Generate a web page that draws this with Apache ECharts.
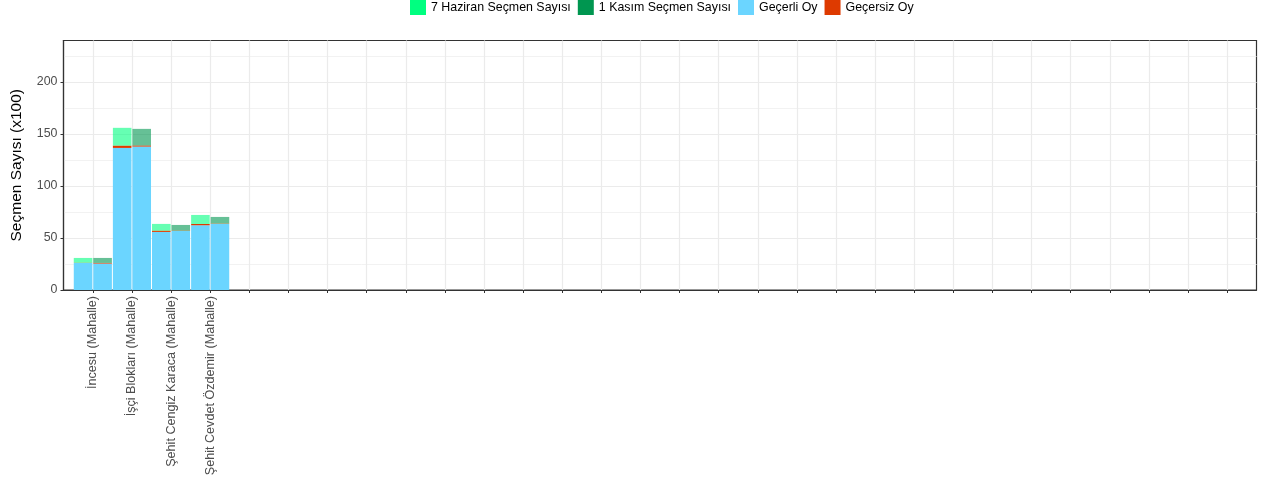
<!DOCTYPE html>
<html>
<head>
<meta charset="utf-8">
<script src="https://cdn.jsdelivr.net/npm/echarts@6/dist/echarts.min.js"></script>
<style>
  html, body { margin: 0; padding: 0; background: #fff; }
  #chart { width: 1262px; height: 486px; }
</style>
</head>
<body>
<div id="chart"></div>
<script>
// chart data (x100 voters)
const districts = [
  "İncesu (Mahalle)",
  "İşçi Blokları (Mahalle)",
  "Şehit Cengiz Karaca (Mahalle)",
  "Şehit Cevdet Özdemir (Mahalle)"
];
const levelCount = 30; // the factor has 30 levels, most of them empty here
const haziranTotal = [30.8, 155.8, 63.5, 72.1];
const haziranValid = [26.0, 136.5, 55.8, 62.2];
const haziranInvalid = [0.2, 2.2, 1.2, 1.2];
const kasimTotal = [30.8, 154.8, 62.5, 70.2];
const kasimValid = [25.4, 137.8, 56.7, 63.5];
const kasimInvalid = [0.6, 1.0, 0.3, 0.3];
const yTicks = [0, 50, 100, 150, 200];

const legendNames = ["7 Haziran Seçmen Sayısı", "1 Kasım Seçmen Sayısı", "Geçerli Oy", "Geçersiz Oy"];
const colors = {
  haziran: "#00ff80",
  kasim: "#009650",
  valid: "#6bd5ff",
  invalid: "#de3a00"
};

// the discrete axis has 0.75 units of padding on each side, so the axis is
// split into quarter-units and each level sits on every 4th slot
const SUB = 4, OFFSET = 3;
const slotTotal = levelCount * SUB + OFFSET;
const slots = Array.from({ length: slotTotal }, (_, i) => "s" + i);
const isLevel = i => i % SUB === OFFSET;

function toSlots(values) {
  const out = new Array(slotTotal).fill(null);
  values.forEach((v, i) => { out[OFFSET + i * SUB] = v; });
  return out;
}
const rest = (total, valid, invalid) => total.map((t, i) => +(t - valid[i] - invalid[i]).toFixed(2));

const font = "'Liberation Sans', Arial, Helvetica, sans-serif";

const chart = echarts.init(document.getElementById("chart"));

const barBase = {
  type: "bar",
  barWidth: 18.6,
  barGap: "5%",
  emphasis: { disabled: true }
};

chart.setOption({
  animation: false,
  textStyle: { fontFamily: font },
  legend: {
    top: 0,
    left: 410,
    padding: 0,
    itemWidth: 16,
    itemHeight: 15,
    itemGap: 7,
    textStyle: { fontSize: 12.4, color: "#000", fontFamily: font },
    data: [
      { name: legendNames[0], icon: "rect", itemStyle: { color: colors.haziran, opacity: 1 } },
      { name: legendNames[1], icon: "rect", itemStyle: { color: colors.kasim, opacity: 1 } },
      { name: legendNames[2], icon: "rect", itemStyle: { color: colors.valid, opacity: 1 } },
      { name: legendNames[3], icon: "rect", itemStyle: { color: colors.invalid, opacity: 1 } }
    ]
  },
  grid: {
    left: 63.5,
    right: 5.5,
    top: 40.5,
    bottom: 196,
    show: true,
    borderColor: "#333",
    borderWidth: 1.2
  },
  xAxis: {
    type: "category",
    boundaryGap: false,
    data: slots,
    axisLine: { lineStyle: { color: "#333", width: 1.2 } },
    axisTick: { interval: isLevel, length: 3, lineStyle: { color: "#333" } },
    splitLine: { show: true, interval: isLevel, lineStyle: { color: "#ebebeb", width: 1.2 } },
    axisLabel: {
      interval: isLevel,
      rotate: 90,
      margin: 6,
      fontSize: 12.6,
      color: "#4d4d4d",
      fontFamily: font,
      formatter: (v, i) => districts[(i - OFFSET) / SUB] || ""
    }
  },
  yAxis: [
    {
      type: "value",
      min: 0,
      max: 239.7,
      interval: 50,
      name: "Seçmen Sayısı (x100)",
      nameLocation: "middle",
      nameGap: 39,
      nameTextStyle: { fontSize: 15.5, color: "#000", fontFamily: font },
      axisLine: { show: true, lineStyle: { color: "#333", width: 1.2 } },
      axisTick: { show: true, length: 3, customValues: yTicks, lineStyle: { color: "#333" } },
      axisLabel: { margin: 6, fontSize: 12.4, color: "#4d4d4d", customValues: yTicks, fontFamily: font },
      splitLine: { show: true, lineStyle: { color: "#ebebeb", width: 1.2 } }
    },
    {
      // minor grid lines only
      type: "value",
      min: 0,
      max: 239.7,
      interval: 25,
      position: "left",
      axisLine: { show: false },
      axisTick: { show: false },
      axisLabel: { show: false },
      splitLine: { show: true, lineStyle: { color: ["rgba(0,0,0,0)", "#f2f2f2"], width: 1 } }
    }
  ],
  series: [
    Object.assign({}, barBase, { name: legendNames[2], stack: "haziran", data: toSlots(haziranValid), itemStyle: { color: colors.valid } }),
    Object.assign({}, barBase, { name: legendNames[3], stack: "haziran", data: toSlots(haziranInvalid), itemStyle: { color: colors.invalid } }),
    Object.assign({}, barBase, { name: legendNames[0], stack: "haziran", data: toSlots(rest(haziranTotal, haziranValid, haziranInvalid)), itemStyle: { color: colors.haziran, opacity: 0.6 } }),
    Object.assign({}, barBase, { name: legendNames[2], stack: "kasim", data: toSlots(kasimValid), itemStyle: { color: colors.valid } }),
    Object.assign({}, barBase, { name: legendNames[3], stack: "kasim", data: toSlots(kasimInvalid), itemStyle: { color: colors.invalid } }),
    Object.assign({}, barBase, { name: legendNames[1], stack: "kasim", data: toSlots(rest(kasimTotal, kasimValid, kasimInvalid)), itemStyle: { color: colors.kasim, opacity: 0.6 } })
  ]
});

window.addEventListener("resize", () => chart.resize());
</script>
</body>
</html>
